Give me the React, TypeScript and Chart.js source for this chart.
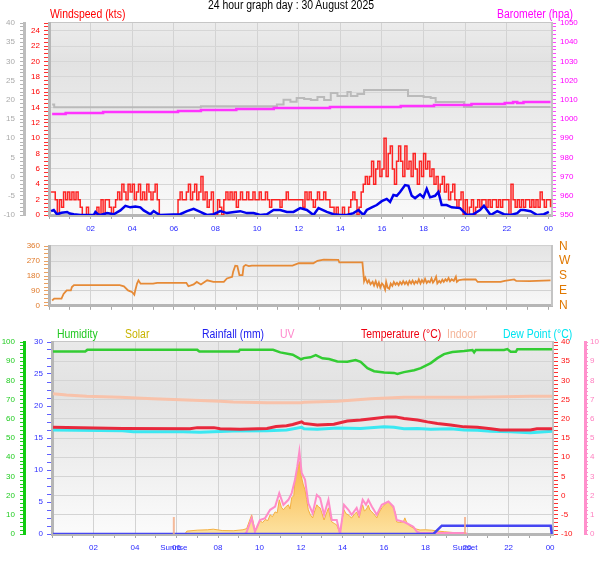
import React, { useEffect, useRef } from 'react';
import { Chart, registerables } from 'chart.js';
Chart.register(...registerables);

const FONT = '"Liberation Sans", Arial, sans-serif';
Chart.defaults.font.family = FONT;

// ---------- texts ----------
const titleText = '24 hour graph day : 30 August 2025';
const hourTicks = [0, 1, 2, 3, 4, 5, 6, 7, 8, 9, 10, 11, 12, 13, 14, 15, 16, 17, 18, 19, 20, 21, 22, 23, 24];
const hourLabels = ['', '', '02', '', '04', '', '06', '', '08', '', '10', '', '12', '', '14', '', '16', '', '18', '', '20', '', '22', '', '00'];
const compassLabels = ['N', 'E', 'S', 'W', 'N'];

// ---------- panel 1: wind & barometer ----------
const gustStart = 0.1;
const gustStep = 0.1;
const windGust = [
  3, 3, 2, 0, 2, 1, 3, 2, 3,
  2, 3, 2, 3, 2, 1, 0, 0, 1, 0,
  0, 0, 0, 1, 0, 2, 0, 2, 2, 1,
  0, 1, 2, 3, 2, 4, 3, 2, 4, 3,
  4, 2, 3, 4, 2, 3, 2, 4, 3, 2,
  3, 4, 2, 0, 0, 0, 0, 0, 0, 0,
  0, 0, 2, 3, 2, 2, 3, 4, 2, 3,
  4, 2, 3, 5, 2, 3, 1, 2, 3, 0,
  0, 2, 1, 0, 2, 3, 2, 3, 2, 3,
  1, 2, 3, 2, 2, 3, 2, 2, 3, 2,
  2, 3, 2, 2, 3, 2, 1, 2, 2, 2,
  2, 1, 2, 2, 3, 2, 2, 2, 2, 2,
  2, 2, 1, 3, 2, 3, 2, 1, 2, 3,
  2, 2, 3, 2, 2, 1, 1, 0, 1, 0,
  0, 1, 0, 0, 1, 2, 3, 2, 0, 1,
  3, 4, 5, 4, 5, 7, 4, 6, 7, 5,
  6, 10, 5, 8, 9, 6, 4, 7, 9, 7,
  5, 9, 6, 7, 5, 8, 6, 4, 7, 5,
  8, 6, 7, 5, 6, 4, 5, 3, 4, 5,
  3, 4, 2, 3, 4, 2, 1, 2, 3, 0,
  2, 0, 1, 2, 0, 1, 2, 1, 2, 2,
  1, 2, 1, 2, 2, 1, 2, 1, 2, 2,
  2, 0, 4, 2, 1, 2, 1, 2, 1, 2,
  2, 1, 2, 1, 2, 1, 3, 2, 1, 2,
  2, 1,
];
const windAvg: [number, number][] = [
  [0.1, 0.5], [0.23, 0.65], [0.38, 0.1], [0.6, 0.3], [0.87, 0.4], [1.0, 0.2], [1.19, 0.1], [1.51, 0], [2.15, 0],
  [2.23, 0.4], [2.35, 0.1], [2.47, 0], [2.79, 0.25], [3.11, 0.1], [3.43, 0.6], [3.67, 1.2], [3.91, 1.0], [4.15, 1.1],
  [4.39, 1.0], [4.55, 0.6], [4.87, 0.1], [5.03, 0.5], [5.2, 0.2], [5.35, 0], [6.3, 0.1], [6.63, 0.5], [6.95, 0.8],
  [7.27, 0.4], [7.59, 0], [7.91, 0.1], [8.23, 0.5], [8.55, 0.25], [8.9, 0.4], [9.19, 0.5], [9.51, 0.25], [9.83, 0.25],
  [10.15, 0], [10.47, 0.1], [10.79, 0.65], [11.11, 0.65], [11.43, 0.4], [11.75, 0.4], [12.07, 0.9], [12.39, 0.65],
  [12.71, 0], [12.95, 0.9], [13.35, 0.4], [13.67, 0.1], [14.0, 0], [14.31, 0], [14.63, 0.25], [14.87, 0.65], [15.11, 0],
  [15.27, 0.65], [15.51, 1.0], [15.75, 1.3], [15.99, 1.8], [16.23, 2.1], [16.39, 1.7], [16.55, 2.6], [16.71, 2.5],
  [16.87, 3.0], [17.11, 3.9], [17.27, 3.8], [17.43, 2.5], [17.59, 2.2], [17.83, 2.7], [17.99, 2.3], [18.15, 3.4],
  [18.31, 2.3], [18.55, 2.5], [18.71, 3.0], [18.87, 1.3], [19.11, 1.3], [19.35, 1.0], [19.75, 0.9], [19.99, 0.25],
  [20.07, 0], [20.39, 0.1], [20.71, 0.65], [20.9, 1.2], [21.22, 0], [21.54, 0.5], [21.86, 0.1], [22.18, 0], [22.5, 0.25],
  [22.66, 0.65], [22.82, 0.65], [23.14, 0.5], [23.46, 0], [23.78, 0.1], [24.02, 0.4],
];
const barometer: [number, number][] = [
  [0.15, 1002.6], [0.8, 1003.1], [2.6, 1003.6], [6.2, 1004.2], [7.3, 1004.7], [9.0, 1005.2], [10.8, 1005.7],
  [13.5, 1006.2], [16.9, 1006.8], [18.5, 1007.3], [20.3, 1007.8], [21.9, 1008.3], [22.3, 1008.9], [22.5, 1008.3],
  [22.8, 1008.9], [24.1, 1008.9],
];
const greyTrace: [number, number][] = [
  [0.15, 1007.6], [0.25, 1006.1], [7.3, 1006.6], [10.47, 1006.6], [10.95, 1007.6], [11.27, 1010.0], [11.6, 1009.0],
  [11.9, 1011.0], [12.26, 1010.4], [12.58, 1009.9], [12.9, 1011.5], [13.22, 1009.9], [13.54, 1013.5], [13.86, 1012.0],
  [14.34, 1014.0], [14.5, 1012.0], [14.82, 1013.0], [15.14, 1015.1], [17.25, 1012.0], [18.0, 1011.5], [18.34, 1011.0],
  [18.58, 1008.8], [19.94, 1006.3], [24.1, 1006.3],
];

// ---------- panel 2: wind direction ----------
const windDir: [number, number][] = [
  [0.15, 32], [0.25, 43], [0.6, 43], [0.7, 72], [0.85, 93], [1.05, 93], [1.1, 113], [1.2, 125], [3.4, 125], [3.6, 118],
  [3.8, 93], [4.0, 82], [4.1, 67], [4.15, 96], [4.23, 134], [4.3, 154], [4.4, 134], [5.0, 134], [5.2, 139], [6.6, 139],
  [6.7, 118], [6.95, 129], [7.1, 144], [7.3, 129], [7.6, 154], [7.9, 144], [8.4, 144], [8.55, 165], [8.8, 175],
  [8.85, 206], [8.95, 242], [9.05, 240], [9.15, 185], [9.3, 185], [9.35, 237], [9.45, 247], [9.6, 240], [9.75, 243],
  [11.7, 243], [12.0, 257], [12.7, 257], [12.9, 272], [13.2, 279], [13.9, 278], [13.95, 262], [15.06, 262],
  [15.14, 149], [15.2, 170], [15.3, 139], [15.37, 154], [15.45, 130], [15.55, 145], [15.62, 123], [15.7, 149],
  [15.78, 118], [15.85, 140], [15.92, 110], [16.0, 135], [16.07, 125], [16.15, 98], [16.2, 144], [16.27, 110],
  [16.35, 103], [16.42, 134], [16.5, 120], [16.57, 144], [16.65, 128], [16.72, 139], [16.8, 125], [16.87, 144],
  [16.95, 130], [17.02, 149], [17.1, 132], [17.17, 145], [17.25, 128], [17.32, 150], [17.4, 135], [17.47, 152],
  [17.55, 133], [17.62, 148], [17.7, 137], [17.77, 159], [17.85, 135], [17.92, 155], [18.0, 140], [18.07, 162],
  [18.15, 138], [18.22, 150], [18.3, 142], [18.38, 165], [18.45, 140], [18.52, 152], [18.6, 175], [18.66, 135],
  [18.75, 150], [18.82, 140], [18.9, 158], [18.97, 145], [19.05, 160], [19.12, 150], [19.2, 168], [19.27, 148],
  [19.35, 160], [19.45, 150], [19.55, 175], [19.6, 145], [19.7, 155], [19.95, 159], [20.5, 159], [20.6, 144],
  [21.7, 144], [21.9, 151], [22.35, 159], [22.45, 150], [23.1, 149], [24.1, 154],
];

// ---------- panel 3: humidity, temperatures, rain, UV, solar ----------
const humidity: [number, number][] = [
  [0.05, 95.1], [1.6, 95.1], [1.7, 95.9], [7.0, 95.9], [7.1, 95.1], [9.0, 95.1], [9.05, 95.9], [10.65, 95.9],
  [11.0, 94.6], [11.6, 93.4], [12.0, 91.0], [12.14, 91.6], [12.45, 92.0], [12.71, 93.2], [13.03, 91.5], [13.35, 91.1],
  [13.75, 89.9], [14.23, 89.7], [14.63, 90.6], [14.87, 89.7], [15.2, 86.4], [15.52, 84.8], [16.0, 84.1], [16.48, 83.9],
  [16.64, 83.4], [16.96, 84.3], [17.45, 85.3], [17.77, 86.4], [18.25, 89.0], [18.57, 91.6], [18.89, 93.7],
  [19.29, 94.8], [19.86, 95.3], [20.26, 95.8], [20.34, 94.6], [20.42, 95.8], [21.78, 95.8], [21.94, 96.3],
  [22.1, 94.9], [22.35, 94.9], [22.42, 96.2], [24.1, 96.2],
];
const temperature: [number, number][] = [
  [0.05, 17.8], [3.4, 17.5], [6.65, 17.4], [7.0, 17.7], [7.8, 17.7], [8.1, 17.4], [9.06, 17.3], [10.36, 17.5],
  [10.8, 18.0], [11.3, 18.2], [11.6, 18.5], [12.03, 19.2], [12.14, 18.8], [12.78, 18.4], [13.58, 18.6], [14.23, 19.4],
  [14.87, 19.7], [15.52, 20.1], [16.16, 20.5], [16.56, 20.5], [16.96, 20.1], [17.61, 19.7], [18.09, 19.2],
  [18.57, 18.8], [19.21, 18.4], [19.86, 17.9], [20.5, 17.8], [21.14, 17.4], [21.6, 17.1], [23.05, 17.1],
  [23.37, 17.4], [24.1, 17.4],
];
const dewPoint: [number, number][] = [
  [0.05, 17.1], [3.4, 16.9], [3.92, 16.6], [6.3, 16.6], [7.13, 16.5], [8.73, 16.8], [10.36, 16.9], [11.3, 17.1],
  [12.03, 17.8], [12.14, 17.4], [12.78, 17.3], [13.75, 17.6], [14.87, 17.5], [16.0, 17.9], [16.48, 17.8],
  [16.96, 17.4], [17.61, 17.5], [18.25, 17.3], [19.21, 17.4], [19.86, 17.1], [20.5, 17.0], [21.14, 16.75],
  [22.1, 16.6], [23.05, 16.4], [24.1, 16.75],
];
const indoor: [number, number][] = [
  [0.05, 26.5], [0.7, 26.2], [1.67, 25.9], [3.28, 25.6], [4.87, 25.2], [6.5, 24.9], [8.1, 24.6], [8.73, 24.4],
  [10.36, 24.2], [12.03, 24.2], [12.14, 24.3], [13.75, 24.6], [15.36, 25.2], [16.96, 25.6], [18.57, 25.6],
  [20.18, 25.6], [21.78, 25.75], [23.05, 25.9], [24.1, 25.9],
];
const rainfall: [number, number][] = [[0.05, 0], [18.38, 0], [18.78, 1.3], [24.03, 1.3], [24.08, 0]];
const uvIndex: [number, number][] = [
  [0.05, 0], [9.3, 0], [9.38, 0.1], [9.62, 0.82], [9.78, 0.12], [10.02, 0.73], [10.27, 0.83], [10.51, 1.26],
  [10.75, 1.43], [10.95, 2.13], [11.15, 1.52], [11.39, 1.78], [11.55, 2.13], [11.71, 2.83], [11.82, 3.52],
  [11.92, 4.31], [12.03, 3.18], [12.19, 2.83], [12.35, 1.6], [12.56, 1.08], [12.76, 2.04], [12.92, 1.88],
  [13.11, 1.0], [13.32, 1.78], [13.48, 0.73], [13.72, 0.73], [13.88, 0], [14.07, 1.52], [14.28, 1.26], [14.44, 1.0],
  [14.68, 1.36], [14.8, 1.0], [14.97, 1.78], [15.13, 1.52], [15.24, 1.78], [15.41, 1.43], [15.65, 1.0], [15.89, 1.52],
  [16.21, 1.69], [16.45, 1.43], [16.61, 0.73], [16.93, 0.64], [17.09, 0.56], [17.41, 0.38], [17.58, 0.12],
  [17.73, 0.05], [19.9, 0.05], [20.0, 0],
];
const solar: [number, number][] = [
  [6.4, 0], [6.5, 15], [7.0, 20], [7.5, 22], [7.77, 25], [8.2, 18], [8.73, 17], [9.2, 22], [9.38, 28], [9.5, 64],
  [9.62, 100], [9.72, 50], [9.78, 20], [9.9, 40], [10.02, 68], [10.15, 60], [10.27, 75], [10.4, 70], [10.51, 100],
  [10.62, 90], [10.75, 115], [10.85, 110], [10.95, 178], [11.05, 140], [11.15, 126], [11.25, 140], [11.39, 152],
  [11.47, 130], [11.55, 189], [11.65, 200], [11.71, 283], [11.82, 330], [11.92, 377], [12.0, 300], [12.03, 293],
  [12.1, 260], [12.19, 230], [12.27, 180], [12.35, 126], [12.45, 100], [12.56, 84], [12.66, 120], [12.76, 152],
  [12.85, 140], [12.92, 136], [13.0, 110], [13.11, 73], [13.2, 100], [13.32, 136], [13.4, 90], [13.48, 63],
  [13.6, 55], [13.72, 47], [13.85, 10], [13.88, 0], [13.95, 60], [14.07, 126], [14.17, 105], [14.28, 100],
  [14.36, 90], [14.44, 84], [14.55, 100], [14.68, 115], [14.75, 95], [14.8, 84], [14.9, 130], [14.97, 152],
  [15.05, 120], [15.13, 126], [15.2, 140], [15.24, 150], [15.32, 125], [15.41, 115], [15.5, 105], [15.65, 84],
  [15.75, 110], [15.89, 136], [16.0, 150], [16.1, 160], [16.21, 168], [16.3, 155], [16.45, 136], [16.55, 110],
  [16.61, 63], [16.75, 60], [16.93, 63], [17.0, 84], [17.09, 60], [17.2, 45], [17.41, 31], [17.58, 25], [17.73, 21],
  [18.0, 22], [18.3, 20], [18.6, 15], [18.9, 12], [19.3, 8], [19.7, 4], [19.9, 0],
];
const sunriseHour = 5.87;
const sunsetHour = 19.9;

// ---------- helpers ----------
const pts = (a: [number, number][]) => a.map(([x, y]) => ({ x, y }));
const tf = (size = 8) => ({ family: FONT, size });
const isMult = (v: number, m: number) => Math.abs(v / m - Math.round(v / m)) < 1e-6;
const CLEAR = 'rgba(0,0,0,0)';

function xScale(max: number, height: number, showLabels: boolean) {
  return {
    type: 'linear',
    min: 0,
    max,
    afterFit: (s: any) => { s.height = height; },
    afterBuildTicks: (s: any) => { s.ticks = hourTicks.map((v) => ({ value: v })); },
    ticks: {
      display: showLabels, autoSkip: false, maxRotation: 0, color: '#2a2aff', font: tf(8), padding: 5,
      callback: (_v: any, i: number) => hourLabels[i],
    },
    grid: {
      color: (c: any) => (c.tick && c.tick.value % 2 === 0 && c.tick.value > 0 && c.tick.value < 24 ? '#d3d3d3' : CLEAR),
      tickColor: '#a8a8a8', tickLength: 4,
    },
    border: { color: '#b6b6b6', width: 3 },
  };
}

function bgPlugin(stops: [number, string][]) {
  return {
    id: 'panelBg',
    beforeDraw(chart: any) {
      const { ctx, chartArea: a } = chart;
      const g = ctx.createLinearGradient(0, a.top, 0, a.bottom);
      stops.forEach(([p, c]) => g.addColorStop(p, c));
      ctx.save();
      ctx.fillStyle = g;
      ctx.fillRect(a.left, a.top, a.right - a.left, a.bottom - a.top);
      ctx.strokeStyle = '#c6c6c6';
      ctx.lineWidth = 1;
      ctx.beginPath();
      ctx.moveTo(a.left, a.top - 0.5);
      ctx.lineTo(a.right, a.top - 0.5);
      ctx.stroke();
      ctx.restore();
    },
  };
}

const sunPlugin = {
  id: 'sunMarks',
  afterDatasetsDraw(chart: any) {
    const { ctx, chartArea: a, scales } = chart;
    ctx.save();
    ctx.strokeStyle = 'rgba(244,170,130,0.8)';
    ctx.lineWidth = 2;
    [sunriseHour, sunsetHour].forEach((h) => {
      const px = scales.x.getPixelForValue(h);
      ctx.beginPath();
      ctx.moveTo(px, a.bottom - 17);
      ctx.lineTo(px, a.bottom);
      ctx.stroke();
    });
    ctx.restore();
  },
  afterDraw(chart: any) {
    const { ctx, chartArea: a, scales } = chart;
    ctx.save();
    ctx.fillStyle = '#2a2aff';
    ctx.font = `8px ${FONT}`;
    ctx.textAlign = 'center';
    ctx.textBaseline = 'middle';
    ctx.fillText('Sunrise', scales.x.getPixelForValue(sunriseHour), a.bottom + 14);
    ctx.fillText('Sunset', scales.x.getPixelForValue(sunsetHour), a.bottom + 14);
    ctx.restore();
  },
};

const basePlugins = { legend: { display: false }, tooltip: { enabled: false } };
const line = (o: any) => ({ pointRadius: 0, tension: 0, fill: false, ...o });

function config1(): any {
  return {
    type: 'line',
    data: {
      datasets: [
        line({ data: pts(windAvg), yAxisID: 'y', borderColor: '#0000ee', borderWidth: 2.5 }),
        line({ data: windGust.map((v, i) => ({ x: gustStart + i * gustStep, y: v })), yAxisID: 'y', borderColor: 'rgba(255,0,0,0.85)', borderWidth: 1.5, stepped: true }),
        line({ data: pts(barometer), yAxisID: 'yBaro', borderColor: '#ff33ff', borderWidth: 2.5, stepped: true }),
        line({ data: pts(greyTrace), yAxisID: 'yBaro', borderColor: '#bababa', borderWidth: 2, stepped: true }),
      ],
    },
    options: {
      responsive: false, animation: false, events: [],
      layout: { padding: { top: 23, left: 0, right: 0, bottom: 0 } },
      plugins: basePlugins,
      scales: {
        x: xScale(24.17, 17, true),
        yGray: {
          position: 'left', weight: 1, min: -10, max: 40,
          afterFit: (s: any) => { s.width = 24; },
          ticks: { stepSize: 1, autoSkip: false, color: '#aaaaaa', font: tf(8), padding: 5, callback: (v: number) => (isMult(v, 5) ? String(v) : '') },
          grid: { drawOnChartArea: false, tickLength: 4, tickColor: '#b4b4b4' },
          border: { color: '#bdbdbd', width: 3 },
        },
        y: {
          position: 'left', weight: 0, min: 0, max: 25,
          afterFit: (s: any) => { s.width = 25; },
          ticks: { stepSize: 0.5, autoSkip: false, color: '#ff0000', font: tf(8), padding: 4, callback: (v: number) => (isMult(v, 2) ? String(v) : '') },
          grid: { color: (c: any) => (c.tick && isMult(c.tick.value, 2) && c.tick.value > 0 ? '#d6d6d6' : CLEAR), tickLength: 5, tickColor: '#ff3030' },
          border: { color: '#b6b6b6', width: 3 },
        },
        yBaro: {
          position: 'right', min: 950, max: 1050,
          afterFit: (s: any) => { s.width = 56; },
          ticks: { stepSize: 2, autoSkip: false, color: '#ff00ff', font: tf(8), padding: 4, callback: (v: number) => (isMult(v, 10) ? String(v) : '') },
          grid: { drawOnChartArea: false, tickLength: 4, tickColor: '#ff44ff' },
          border: { color: '#c4c4c4', width: 2 },
        },
      },
    },
    plugins: [bgPlugin([[0, '#ececec'], [0.2, '#e2e2e2'], [1, '#f9f9f9']])],
  };
}

function config2(): any {
  return {
    type: 'line',
    data: {
      datasets: [line({ data: pts(windDir), yAxisID: 'y', borderColor: '#e68a36', borderWidth: 1.8 })],
    },
    options: {
      responsive: false, animation: false, events: [],
      layout: { padding: { top: 11, left: 0, right: 0, bottom: 0 } },
      plugins: basePlugins,
      scales: {
        x: xScale(24.17, 6, false),
        y: {
          position: 'left', min: 0, max: 360,
          afterFit: (s: any) => { s.width = 49; },
          ticks: { stepSize: 22.5, autoSkip: false, color: '#e07a2a', font: tf(8), padding: 4, callback: (v: number) => (isMult(v, 90) ? String(v) : '') },
          grid: { color: (c: any) => (c.tick && isMult(c.tick.value, 90) && c.tick.value > 0 && c.tick.value < 360 ? '#d2d2d2' : CLEAR), tickLength: 5, tickColor: '#eaa060' },
          border: { color: '#b6b6b6', width: 3 },
        },
        yDir: {
          position: 'right', min: 0, max: 360,
          afterFit: (s: any) => { s.width = 56; },
          ticks: { stepSize: 90, autoSkip: false, color: '#e07800', font: tf(12), padding: 7, callback: (v: number) => compassLabels[Math.round(v / 90)] },
          grid: { drawOnChartArea: false, drawTicks: false },
          border: { color: '#c4c4c4', width: 2 },
        },
      },
    },
    plugins: [bgPlugin([[0, '#e4e4e4'], [1, '#f8f8f8']])],
  };
}

function config3(): any {
  return {
    type: 'line',
    data: {
      datasets: [
        line({ data: pts(rainfall), yAxisID: 'yRain', borderColor: '#4646f2', borderWidth: 2.5 }),
        line({ data: pts(uvIndex), yAxisID: 'yUV', borderColor: '#ff8cc8', borderWidth: 2 }),
        line({ data: pts(temperature), yAxisID: 'yTemp', borderColor: '#e8283c', borderWidth: 3 }),
        line({ data: pts(dewPoint), yAxisID: 'yTemp', borderColor: '#3ae8f2', borderWidth: 3 }),
        line({ data: pts(humidity), yAxisID: 'yHum', borderColor: '#33cc33', borderWidth: 2.5 }),
        line({ data: pts(indoor), yAxisID: 'yTemp', borderColor: '#f8c2aa', borderWidth: 3 }),
        line({
          data: pts(solar), yAxisID: 'ySolar', borderColor: '#f5b040', borderWidth: 1, fill: 'origin',
          backgroundColor: (c: any) => {
            const a = c.chart.chartArea;
            if (!a) return '#f9c25a';
            const g = c.chart.ctx.createLinearGradient(0, a.bottom - 80, 0, a.bottom);
            g.addColorStop(0, '#f8b03a');
            g.addColorStop(1, '#fde2a0');
            return g;
          },
        }),
      ],
    },
    options: {
      responsive: false, animation: false, events: [],
      layout: { padding: { top: 22, left: 0, right: 0, bottom: 0 } },
      plugins: basePlugins,
      scales: {
        x: xScale(24.14, 27, true),
        yHum: {
          position: 'left', weight: 1, min: 0, max: 100,
          afterFit: (s: any) => { s.width = 24; },
          ticks: { stepSize: 2, autoSkip: false, color: '#22cc22', font: tf(8), padding: 5, callback: (v: number) => (isMult(v, 10) ? String(v) : '') },
          grid: { color: (c: any) => (c.tick && isMult(c.tick.value, 10) && c.tick.value > 0 && c.tick.value < 100 ? '#d4d4d4' : CLEAR), tickLength: 4, tickColor: '#22cc22' },
          border: { color: '#11cc11', width: 3 },
        },
        yRain: {
          position: 'left', weight: 0, min: 0, max: 30,
          afterFit: (s: any) => { s.width = 28; },
          ticks: { stepSize: 1.25, autoSkip: false, color: '#3030ff', font: tf(8), padding: 4, callback: (v: number) => (isMult(v, 5) ? String(v) : '') },
          grid: { drawOnChartArea: false, tickLength: 5, tickColor: '#6060ff' },
          border: { color: '#b6b6b6', width: 3 },
        },
        yTemp: {
          position: 'right', weight: 0, min: -10, max: 40,
          afterFit: (s: any) => { s.width = 32; },
          ticks: { stepSize: 1, autoSkip: false, color: '#ff1010', font: tf(8), padding: 3, callback: (v: number) => (isMult(v, 5) ? String(v) : '') },
          grid: { drawOnChartArea: false, tickLength: 5, tickColor: '#ff3030' },
          border: { color: '#c4c4c4', width: 2 },
        },
        yUV: {
          position: 'right', weight: 1, min: 0, max: 10,
          afterFit: (s: any) => { s.width = 23; },
          ticks: { stepSize: 0.2, autoSkip: false, color: '#ff80c0', font: tf(8), padding: 2, callback: (v: number) => (isMult(v, 1) ? String(Math.round(v)) : '') },
          grid: { drawOnChartArea: false, tickLength: 3, tickColor: '#ff90cc' },
          border: { color: '#ff90cc', width: 3 },
        },
        ySolar: { display: false, min: 0, max: 1000 },
      },
    },
    plugins: [bgPlugin([[0, '#e9e9e9'], [0.25, '#e2e2e2'], [1, '#fbfbfb']]), sunPlugin],
  };
}

const txt = (left: number, top: number, color: string): React.CSSProperties => ({
  position: 'absolute', left, top, color, font: `12px ${FONT}`, lineHeight: '14px', whiteSpace: 'nowrap',
  transform: 'scaleX(0.87)', transformOrigin: 'left top',
});

export default function App() {
  const c1 = useRef<HTMLCanvasElement>(null);
  const c2 = useRef<HTMLCanvasElement>(null);
  const c3 = useRef<HTMLCanvasElement>(null);
  useEffect(() => {
    const charts = [
      new Chart(c1.current as HTMLCanvasElement, config1()),
      new Chart(c2.current as HTMLCanvasElement, config2()),
      new Chart(c3.current as HTMLCanvasElement, config3()),
    ];
    return () => charts.forEach((c) => c.destroy());
  }, []);
  return (
    <div style={{ position: 'fixed', left: 0, top: 0, width: 608, height: 561, background: '#ffffff', overflow: 'hidden' }}>
      <canvas ref={c1} width={608} height={232} style={{ position: 'absolute', left: 0, top: 0, width: 608, height: 232 }} />
      <canvas ref={c2} width={608} height={88} style={{ position: 'absolute', left: 0, top: 232, width: 608, height: 88 }} />
      <canvas ref={c3} width={608} height={241} style={{ position: 'absolute', left: 0, top: 320, width: 608, height: 241 }} />
      <div style={{ ...txt(0, -2, '#000000'), width: 582, textAlign: 'center', transformOrigin: '291px 0' }}>{titleText}</div>
      <div style={txt(50, 7, '#ff0000')}>Windspeed (kts)</div>
      <div style={txt(497, 7, '#ff00ff')}>Barometer (hpa)</div>
      <div style={txt(57, 327, '#22c822')}>Humidity</div>
      <div style={txt(125, 327, '#c8b400')}>Solar</div>
      <div style={txt(202, 327, '#2020f0')}>Rainfall (mm)</div>
      <div style={txt(280, 327, '#ff88cc')}>UV</div>
      <div style={txt(361, 327, '#ee0010')}>Temperature (°C)</div>
      <div style={txt(447, 327, '#f4b498')}>Indoor</div>
      <div style={txt(503, 327, '#00e4f0')}>Dew Point (°C)</div>
    </div>
  );
}
